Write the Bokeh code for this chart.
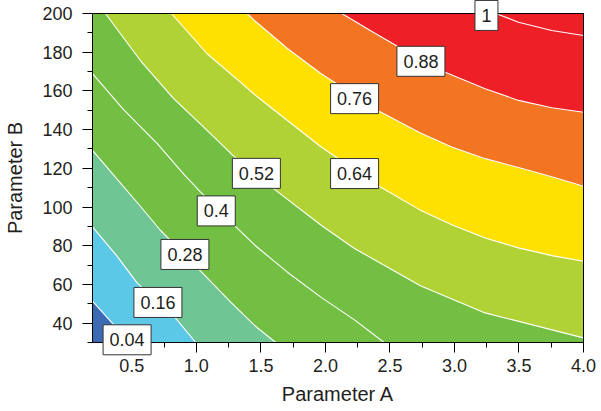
from bokeh.plotting import figure
from bokeh.models import FixedTicker, Range1d, NumeralTickFormatter
from bokeh.core.properties import value
from bokeh.embed import file_html
from bokeh.resources import INLINE

# ---- data (Parameter A, Parameter B along each contour) ----
levels = [0.04, 0.16, 0.28, 0.4, 0.52, 0.64, 0.76, 0.88, 1.0]

c004_A = [0.195, 0.346, 0.47]
c004_B = [51.4, 40.2, 30.0]
c016_A = [0.195, 0.385, 0.540, 0.837, 0.995]
c016_B = [89.7, 74.6, 60.8, 42.7, 30.0]
c028_A = [0.195, 0.372, 0.566, 0.721, 1.031, 1.264, 1.465, 1.615]
c028_B = [129.3, 115.5, 100.4, 88.0, 67.0, 51.0, 38.0, 30.0]
c040_A = [0.195, 0.436, 0.695, 0.902, 1.031, 1.302, 1.465, 1.708, 1.967, 2.225, 2.455]
c040_B = [168.9, 150.3, 132.9, 117.0, 107.8, 90.0, 79.6, 66.2, 53.3, 41.7, 30.0]
c052_A = [0.295, 0.566, 0.824, 1.083, 1.289, 1.618, 1.967, 2.225, 2.736, 3.238, 4.0]
c052_B = [200.0, 175.7, 156.0, 139.6, 126.3, 108.5, 90.6, 78.6, 59.3, 45.3, 32.4]
c064_A = [0.806, 1.083, 1.341, 1.455, 1.708, 1.967, 2.419, 2.736, 2.979, 3.238, 3.496, 3.754, 4.0]
c064_B = [200.0, 179.2, 164.5, 157.9, 144.6, 131.0, 110.6, 98.4, 90.9, 84.0, 78.9, 74.9, 72.0]
c076_A = [1.393, 1.45, 1.708, 1.967, 2.413, 2.736, 2.979, 3.238, 3.496, 3.754, 4.0]
c076_B = [200.0, 196.4, 181.8, 168.9, 149.6, 138.2, 131.0, 125.0, 120.4, 115.6, 110.7]
c088_A = [2.127, 2.354, 2.561, 2.928, 3.238, 3.496, 3.754, 4.0]
c088_B = [200.0, 191.0, 183.0, 169.6, 161.1, 155.1, 151.3, 149.0]
c100_A = [3.32, 3.496, 3.754, 4.0]
c100_B = [200.0, 195.5, 191.2, 188.6]

contour_A = [c004_A, c016_A, c028_A, c040_A, c052_A, c064_A, c076_A, c088_A, c100_A]
contour_B = [c004_B, c016_B, c028_B, c040_B, c052_B, c064_B, c076_B, c088_B, c100_B]

label_text = ["0.04", "0.16", "0.28", "0.4", "0.52", "0.64", "0.76", "0.88", "1"]
label_A = [0.463, 0.702, 0.911, 1.154, 1.465, 2.226, 2.226, 2.740, 3.248]
label_B = [31.4, 50.7, 75.5, 98.0, 117.4, 117.3, 156.0, 175.3, 199.0]

x_ticks = [0.5, 1.0, 1.5, 2.0, 2.5, 3.0, 3.5, 4.0]
x_minor = [0.75, 1.25, 1.75, 2.25, 2.75, 3.25, 3.75]
y_ticks = [40, 60, 80, 100, 120, 140, 160, 180, 200]
y_minor = [30, 50, 70, 90, 110, 130, 150, 170, 190]

# ---- styles / layout ----
below_color = "#3d6bb3"
band_colors = ["#5bc8e8", "#6fc594", "#73bf44", "#73bf44", "#b1d235",
               "#fee100", "#f37421", "#ee1f26", "#ee1f26"]
XMIN, XMAX, YMIN, YMAX = 0.195, 4.0, 30, 200
FONT = "Liberation Sans"
TXT = "#231f20"
W, H = 601, 411
BOX_L, BOX_R, BOX_T, BOX_B = 92, 583, 13, 342   # pixel edges of the data box

# The frame covers the whole canvas; the axes sit at the data-box edges so that the
# contour labels may overhang the box without being clipped.
kx = (BOX_R - BOX_L) / (XMAX - XMIN)
ky = (BOX_B - BOX_T) / (YMAX - YMIN)
p = figure(width=W, height=H,
           x_range=Range1d(XMIN - BOX_L / kx, XMAX + (W - BOX_R) / kx),
           y_range=Range1d(YMIN - (H - BOX_B) / ky, YMAX + BOX_T / ky),
           output_backend="svg", toolbar_location=None,
           min_border_left=0, min_border_right=0, min_border_top=0, min_border_bottom=0)
p.background_fill_color = "white"
p.border_fill_color = "white"
p.outline_line_color = None
p.grid.visible = False

# base (lowest band)
p.quad(left=[XMIN], right=[XMAX], bottom=[YMIN], top=[YMAX],
       fill_color=below_color, line_color=None)


def region(A, B):
    xs, ys = list(A), list(B)
    if abs(xs[0] - XMIN) < 1e-6:
        sx, sy = XMIN, ys[0]
    else:
        sx, sy = xs[0], YMAX
    if abs(xs[-1] - XMAX) < 1e-6:
        ex, ey = XMAX, ys[-1]
    else:
        ex, ey = xs[-1], YMIN
    px = [sx] + xs + [ex, XMAX, XMAX, sx]
    py = [sy] + ys + [ey, ey, YMAX, YMAX]
    return px, py


pxs, pys = [], []
for A, B in zip(contour_A, contour_B):
    a, b = region(A, B)
    pxs.append(a)
    pys.append(b)

p.patches(xs=pxs, ys=pys, fill_color=band_colors, line_color=band_colors, line_width=0.5)
p.multi_line(xs=contour_A, ys=contour_B, line_color="white", line_width=1.1,
             line_join="round")

# frame box around the data area
p.quad(left=[XMIN], right=[XMAX], bottom=[YMIN], top=[YMAX],
       fill_color=None, line_color="black", line_width=1)

# contour labels: white boxes with dark border, drawn above the axes
box_w = [10 * sum(ch.isdigit() for ch in t) + 5 * t.count(".") + 13 for t in label_text]
p.rect(x=label_A, y=label_B, width=box_w, height=30, width_units="screen",
       height_units="screen", fill_color="white", line_color="#333333", line_width=1,
       level="overlay")
p.text(x=label_A, y=label_B, text=label_text, text_align="center", text_baseline="middle",
       text_font=value(FONT), text_font_size="18px", text_color=TXT, level="overlay")

# axes drawn at the data box edges
p.xaxis.fixed_location = YMIN
p.yaxis.fixed_location = XMIN
p.xaxis.bounds = (XMIN, XMAX)
p.yaxis.bounds = (YMIN, YMAX)
p.xaxis.ticker = FixedTicker(ticks=x_ticks, minor_ticks=x_minor)
p.yaxis.ticker = FixedTicker(ticks=y_ticks, minor_ticks=y_minor)
p.xaxis.formatter = NumeralTickFormatter(format="0.0")

for ax in (p.xaxis, p.yaxis):
    ax.axis_line_color = "black"
    ax.axis_line_width = 1
    ax.major_tick_line_color = "black"
    ax.minor_tick_line_color = "black"
    ax.major_tick_out = 10
    ax.major_tick_in = 0
    ax.minor_tick_out = 5
    ax.minor_tick_in = 0
    ax.major_label_text_font = FONT
    ax.major_label_text_font_size = "18px"
    ax.major_label_text_color = TXT
    ax.axis_label_text_font = FONT
    ax.axis_label_text_font_size = "20px"
    ax.axis_label_text_font_style = "normal"
    ax.axis_label_text_color = TXT

p.xaxis.axis_label = "Parameter A"
p.yaxis.axis_label = "Parameter B"
p.xaxis.major_label_standoff = 6
p.yaxis.major_label_standoff = 10
p.xaxis.axis_label_standoff = 8
p.yaxis.axis_label_standoff = 13

open("out.html", "w").write(file_html(p, INLINE))
